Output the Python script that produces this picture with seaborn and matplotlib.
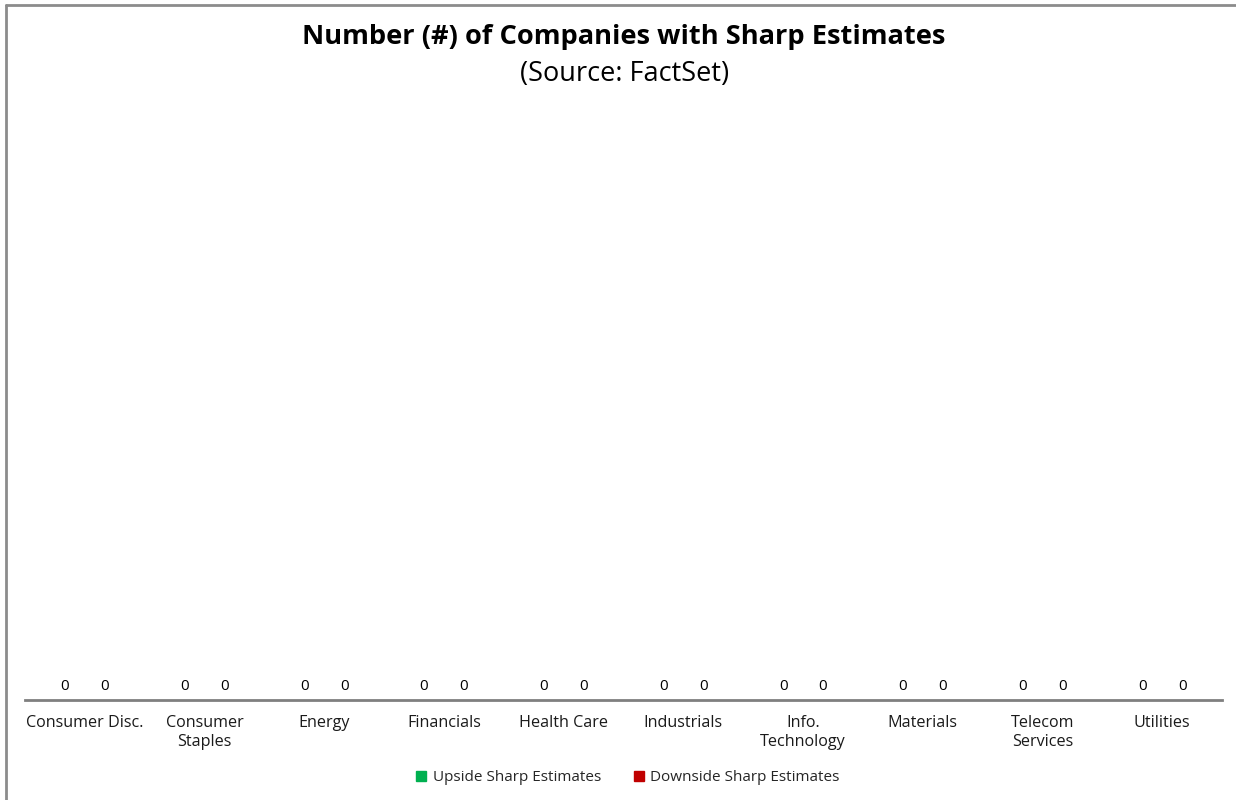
import matplotlib
matplotlib.use("Agg")
import matplotlib.pyplot as plt
from matplotlib.lines import Line2D
import seaborn as sns
import pandas as pd

sectors = ["Consumer Disc.", "Consumer\nStaples", "Energy", "Financials", "Health Care",
           "Industrials", "Info.\nTechnology", "Materials", "Telecom\nServices", "Utilities"]
upside = [0, 0, 0, 0, 0, 0, 0, 0, 0, 0]
downside = [0, 0, 0, 0, 0, 0, 0, 0, 0, 0]
series_names = ["Upside Sharp Estimates", "Downside Sharp Estimates"]
colors = ["#00B050", "#C00000"]

df = pd.DataFrame({
    "Sector": sectors * 2,
    "Series": [series_names[0]] * len(sectors) + [series_names[1]] * len(sectors),
    "Count": upside + downside,
})

sns.set_theme(style="white")
plt.rcParams["font.family"] = ["Open Sans", "DejaVu Sans"]

fig = plt.figure(figsize=(12.36, 8.0), dpi=100)
ax = fig.add_axes([0.0202, 0.125, 0.9685, 0.74])

sns.barplot(data=df, x="Sector", y="Count", hue="Series", palette=colors,
            width=0.667, ax=ax, legend=False, errorbar=None)

for cont in ax.containers:
    ax.bar_label(cont, fmt="%d", padding=4, fontsize=11, color="black")

ax.set_ylim(0, 1)
ax.set_yticks([])
ax.set_xlabel("")
ax.set_ylabel("")
ax.tick_params(axis="x", length=0, pad=11, labelsize=11.6, colors="#1a1a1a")
for lbl in ax.get_xticklabels():
    lbl.set_linespacing(1.25)
for s in ["top", "right", "left"]:
    ax.spines[s].set_visible(False)
ax.spines["bottom"].set_color("#7f7f7f")
ax.spines["bottom"].set_linewidth(2)

fig.text(0.505, 0.954, "Number (#) of Companies with Sharp Estimates",
         ha="center", va="center", fontsize=19.6, fontweight="bold", color="black")
fig.text(0.505, 0.908, "(Source: FactSet)", ha="center", va="center",
         fontsize=19.5, color="black")

handles = [Line2D([], [], marker="s", linestyle="none", markersize=7,
                  markerfacecolor=c, markeredgecolor=c) for c in colors]
fig.legend(handles, series_names, loc="center", bbox_to_anchor=(0.507, 0.028),
           ncol=2, frameon=False, fontsize=11, handletextpad=0.25,
           columnspacing=2.0, handlelength=1.0)

# Frame lines along the left and top edges
fig.add_artist(Line2D([6 / 1236, 6 / 1236], [0, 1 - 5 / 800],
                      transform=fig.transFigure, color="#8c8c8c", lw=2))
fig.add_artist(Line2D([6 / 1236, 1], [1 - 5 / 800, 1 - 5 / 800],
                      transform=fig.transFigure, color="#8c8c8c", lw=2))

fig.savefig("out.png", dpi=100, facecolor="white")
